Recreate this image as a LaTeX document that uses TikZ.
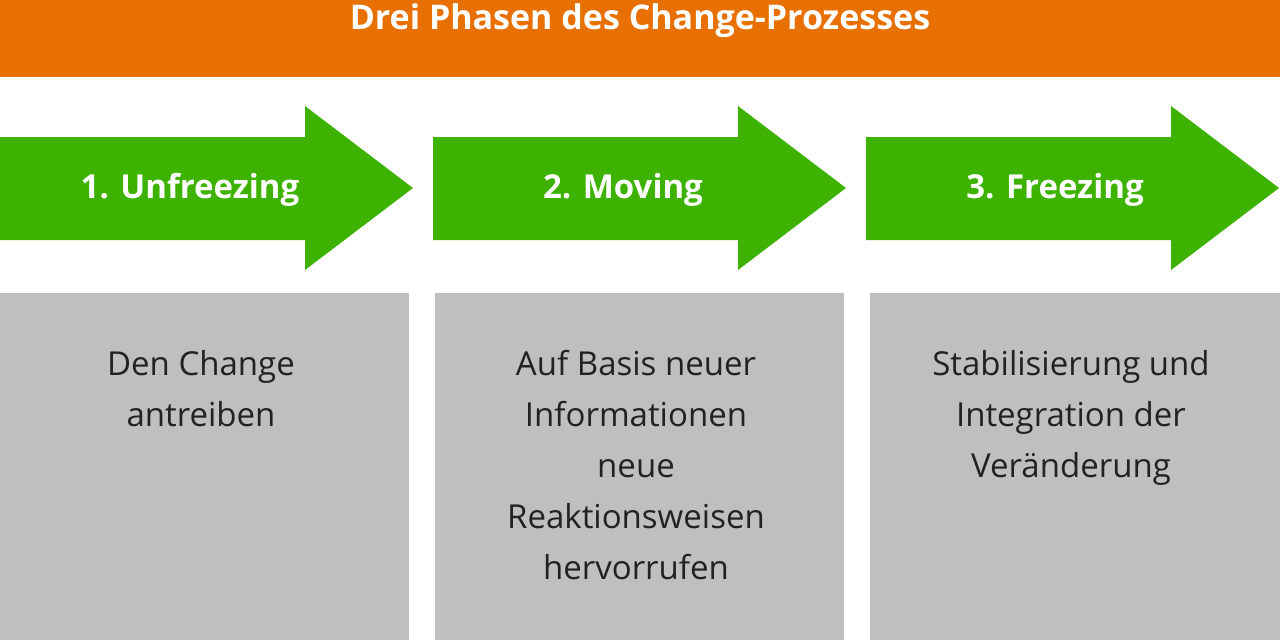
\documentclass[tikz,border=0pt]{standalone}
\usepackage{fontspec}
\setmainfont{Open Sans}
\definecolor{org}{HTML}{E87000}
\definecolor{grn}{HTML}{3DB200}
\definecolor{gry}{HTML}{BFBFBF}
\definecolor{txt}{HTML}{222222}
\begin{document}
\begin{tikzpicture}[x=1pt,y=-1pt,
  arr/.style={fill=grn,draw=none},
  box/.style={fill=gry,draw=none},
  lab/.style={text=white,font=\fontsize{33}{38}\selectfont\bfseries},
  btxt/.style={text=txt,align=center,font=\fontsize{33}{51}\selectfont,anchor=north}]
\useasboundingbox (0,0) rectangle (1280,640);
\fill[org] (0,0) rectangle (1280,77);
\node[text=white,font=\fontsize{34}{38}\selectfont\bfseries] (title) at (640,21) {Drei Phasen des Change-Prozesses};
\foreach \i/\x in {1/0,2/433,3/866}{
  \fill[arr] (\x,137) -- (\x+305,137) -- (\x+305,106) -- (\x+413,188) -- (\x+305,270) -- (\x+305,240) -- (\x,240) -- cycle;
}
\node[lab] (a1) at (190,190) {1. Unfreezing};
\node[lab] (a2) at (623,190) {2. Moving};
\node[lab] (a3) at (1055,190) {3. Freezing};
\fill[box] (0,293) rectangle (409,640);
\fill[box] (435,293) rectangle (844,640);
\fill[box] (870,293) rectangle (1280,640);
\node[btxt] (t1) at (201,347) {Den Change\\antreiben};
\node[btxt] (t2) at (636,347) {Auf Basis neuer\\Informationen\\neue\\Reaktionsweisen\\hervorrufen};
\node[btxt] (t3) at (1071,347) {Stabilisierung und\\Integration der\\Veränderung};
\end{tikzpicture}
\end{document}
